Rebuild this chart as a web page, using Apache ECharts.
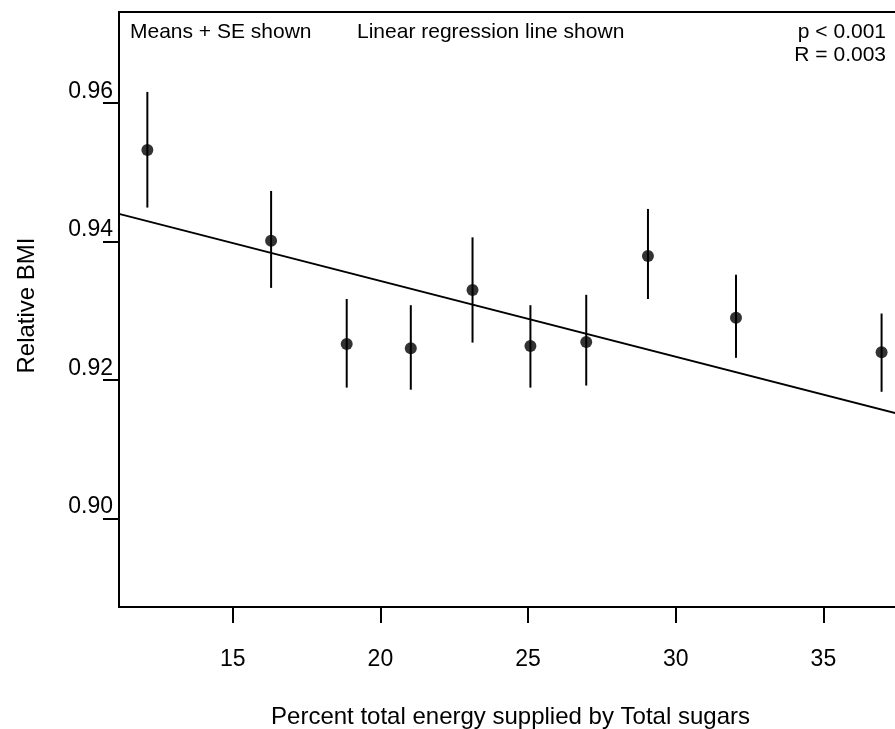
<!DOCTYPE html>
<html>
<head>
<meta charset="utf-8">
<script src="https://cdn.jsdelivr.net/npm/echarts@6/dist/echarts.min.js"></script>
<style>
  html, body { margin: 0; padding: 0; background: #fff; }
  #chart { width: 895px; height: 729px; }
</style>
</head>
<body>
<div id="chart"></div>
<script>
var sugarPct = [12.11, 16.30, 18.86, 21.03, 23.12, 25.08, 26.97, 29.06, 32.04, 36.97];
var bmiMean  = [0.9532, 0.9401, 0.9252, 0.9246, 0.9330, 0.9249, 0.9255, 0.9379, 0.9290, 0.9240];
var bmiUpper = [0.9616, 0.9473, 0.9317, 0.9308, 0.9406, 0.9308, 0.9323, 0.9447, 0.9352, 0.9296];
var bmiLower = [0.9449, 0.9333, 0.9189, 0.9186, 0.9254, 0.9189, 0.9192, 0.9317, 0.9232, 0.9183];
var regLine  = [[11.15, 0.9440], [38, 0.9146]];
var xTicks = [15, 20, 25, 30, 35];
var yTicks = [0.90, 0.92, 0.94, 0.96];

var myChart = echarts.init(document.getElementById('chart'));

var points = [];
var bars = [];
for (var i = 0; i < sugarPct.length; i++) {
  points.push([sugarPct[i], bmiMean[i]]);
  bars.push([sugarPct[i], bmiLower[i], bmiUpper[i]]);
}

var font = 'Liberation Sans, Arial, sans-serif';

var option = {
  backgroundColor: '#ffffff',
  animation: false,
  grid: {
    left: 119, top: 12, bottom: 122, right: -17,
    outerBoundsMode: 'none',
    containLabel: false,
    show: true, borderColor: '#000', borderWidth: 2
  },
  xAxis: {
    type: 'value',
    min: 11.15, max: 38,
    name: 'Percent total energy supplied by Total sugars',
    nameLocation: 'middle',
    nameGap: 98,
    nameTextStyle: { color: '#000', fontSize: 24, fontFamily: font, padding: [0, 10, 0, 0] },
    axisLine: { show: true, lineStyle: { color: '#000', width: 2 } },
    axisTick: { show: true, inside: false, length: 16, customValues: xTicks, lineStyle: { color: '#000', width: 2 } },
    axisLabel: { customValues: xTicks, margin: 41, color: '#000', fontSize: 23, fontFamily: font },
    splitLine: { show: false }
  },
  yAxis: {
    type: 'value',
    min: 0.88722, max: 0.97314,
    name: 'Relative BMI',
    nameLocation: 'middle',
    nameGap: 80,
    nameRotate: 90,
    nameTextStyle: { color: '#000', fontSize: 24, fontFamily: font, padding: [0, 0, 0, 8] },
    axisLine: { show: true, lineStyle: { color: '#000', width: 2 } },
    axisTick: { show: true, inside: false, length: 16, customValues: yTicks, lineStyle: { color: '#000', width: 2 } },
    axisLabel: {
      customValues: yTicks, margin: 6, color: '#000', fontSize: 23, fontFamily: font,
      verticalAlign: 'bottom',
      formatter: function (v) { return v.toFixed(2); }
    },
    splitLine: { show: false }
  },
  graphic: [
    { type: 'text', left: 130, top: 22, style: { text: 'Means + SE shown', fontSize: 21, fontFamily: font, fill: '#000' } },
    { type: 'text', left: 357, top: 22, style: { text: 'Linear regression line shown', fontSize: 21, fontFamily: font, fill: '#000' } },
    { type: 'text', right: 9, top: 22, style: { text: 'p < 0.001', fontSize: 21, fontFamily: font, fill: '#000' } },
    { type: 'text', right: 9, top: 45, style: { text: 'R = 0.003', fontSize: 21, fontFamily: font, fill: '#000' } }
  ],
  series: [
    {
      type: 'line',
      data: regLine,
      symbol: 'none',
      lineStyle: { color: '#000', width: 1.8 },
      z: 2
    },
    {
      type: 'custom',
      data: bars,
      encode: { x: 0, y: [1, 2] },
      renderItem: function (params, api) {
        var lo = api.coord([api.value(0), api.value(1)]);
        var hi = api.coord([api.value(0), api.value(2)]);
        return {
          type: 'line',
          shape: { x1: lo[0], y1: lo[1], x2: hi[0], y2: hi[1] },
          style: { stroke: '#000', lineWidth: 2 }
        };
      },
      z: 3
    },
    {
      type: 'scatter',
      data: points,
      symbol: 'circle',
      symbolSize: 12,
      itemStyle: { color: '#000' },
      z: 4
    }
  ]
};

myChart.setOption(option);
</script>
</body>
</html>
